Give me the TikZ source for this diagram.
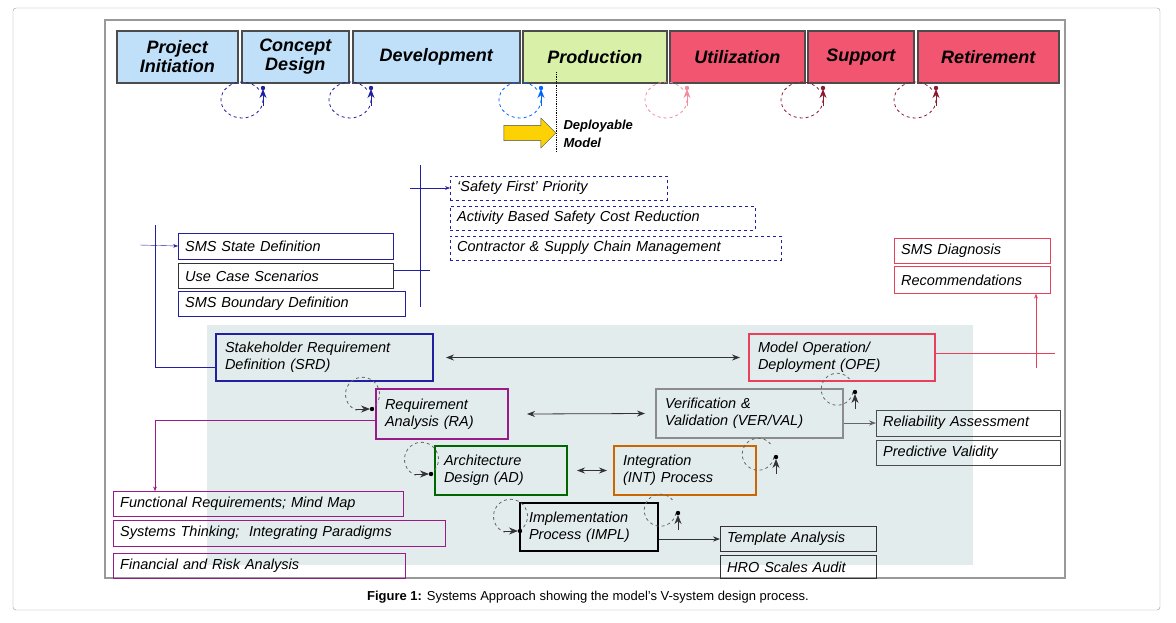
\documentclass[tikz,border=0pt]{standalone}
\usepackage{fontspec}
\setmainfont{Liberation Sans}
\usetikzlibrary{arrows.meta,shapes.arrows}
\definecolor{phblue}{HTML}{BFE0F8}
\definecolor{phgreen}{HTML}{D8F0A8}
\definecolor{phred}{HTML}{F25570}
\definecolor{dkblue}{HTML}{2020A0}
\definecolor{dkred}{HTML}{8A1A30}
\definecolor{pink}{HTML}{E8405A}
\definecolor{purp}{HTML}{9A1A8A}
\definecolor{vback}{HTML}{E3ECEC}
\begin{document}
\begin{tikzpicture}[x=1pt,y=-1pt,
  phase/.style={draw=black!70,line width=1.5pt,font=\fontsize{18}{19}\selectfont\bfseries\itshape,align=center,inner sep=0pt},
  task/.style={draw,font=\fontsize{14.5}{16}\selectfont\itshape,align=left,anchor=west,inner xsep=7pt,inner ysep=0pt},
  stage/.style={draw,line width=2pt,font=\fontsize{14.5}{17}\selectfont\itshape,align=left,inner xsep=9pt,inner ysep=0pt,anchor=north west},
  loop/.style={dashed,thick},
  arr/.style={-{Stealth[length=7pt]},thick,black!80}]
  \useasboundingbox (0,0) rectangle (1176,622);
  \draw[black!40,rounded corners=3pt] (13,8) rectangle (1160,610);
  \draw[black!40,line width=1.5pt] (105,20) rectangle (1065,578);
  % phases
  \foreach \a/\b/\c/\t/\n in {116/237/phblue/{Project\\Initiation}/p1,241/348/phblue/{Concept\\Design}/p2,352/519/phblue/Development/p3,522/666/phgreen/Production/p4,669/804/phred/Utilization/p5,807/913/phred/Support/p6,917/1058/phred/Retirement/p7}
    \node[phase,fill=\c,minimum width={\b-\a},minimum height=52pt,anchor=north west] (\n) at (\a,30) {\t};
  \foreach \n in {p3,p4,p5,p6,p7}
    \path (\n.center) ++(0,-9) coordinate (\n top);
  % phase loops
  \foreach \x/\c in {242/dkblue,350/dkblue,520/blue!60!cyan,666/pink!60,802/dkred,915/dkred}{
    \draw[loop,\c] (\x+21,100) arc (0:330:21 and 18);
    \fill[\c] (\x+21,88) circle (2.2pt);
    \draw[-{Stealth[length=9pt,width=7pt]},\c,thick] (\x+21,106) -- (\x+21,89);
  }
  \node[single arrow,draw=black!70,fill=yellow!70!orange,minimum height=52pt,minimum width=30pt,
    single arrow head extend=4pt,inner sep=4pt] (dep) at (526,133) {};
  \draw[densely dotted,thick] (556,72) -- (556,152);
  \node[font=\fontsize{13}{18}\selectfont\bfseries\itshape,align=left,anchor=west] (deplab) at (560,134) {Deployable\\Model};
  % shaded area
  \fill[vback] (207,325) rectangle (973,565);
  % upper tasks
  \node[task,dashed,draw=dkblue,text width=203pt,minimum height=24pt] (sf) at (450,188) {`Safety First' Priority};
  \node[task,dashed,draw=dkblue,text width=291pt,minimum height=24pt] (ab) at (450,218) {Activity Based Safety Cost Reduction};
  \node[task,dashed,draw=dkblue,text width=317pt,minimum height=24pt] (cs) at (450,248) {Contractor \& Supply Chain Management};
  \draw[dkblue] (420,165) -- (420,307);
  \coordinate (c1) at (410,188);
  \draw[-{Stealth},dkblue] (c1) -- (sf.west);
  \node[task,draw=dkblue,text width=201pt,minimum height=26pt] (ssd) at (178,246) {SMS State Definition};
  \node[task,draw=black!80,text width=201pt,minimum height=25pt] (ucs) at (178,276) {Use Case Scenarios};
  \node[task,draw=dkblue,text width=213pt,minimum height=25pt] (sbd) at (178,304) {SMS Boundary Definition};
  \coordinate (c2) at (430,270);
  \draw[dkblue] (ucs.east |- c2) -- (c2);
  \draw[dkblue] (155,225) -- (155,367) -- (215,367);
  \coordinate (c3) at (140,245);
  \draw[-{Stealth},dkblue] (c3) -- (ssd.west);
  \node[task,draw=pink,text width=142pt,minimum height=25pt] (diag) at (894,251) {SMS Diagnosis};
  \node[task,draw=pink,text width=142pt,minimum height=27pt] (rec) at (894,280) {Recommendations};
  % V stages
  \node[stage,draw=dkblue,text width=199pt,minimum height=47pt] (srd) at (215,333) {Stakeholder Requirement\\Definition (SRD)};
  \node[stage,draw=pink,text width=168pt,minimum height=47pt] (ope) at (748,333) {Model Operation/\\Deployment (OPE)};
  \node[stage,draw=purp,text width=114pt,minimum height=50pt] (ra) at (375,388) {Requirement\\Analysis (RA)};
  \node[stage,draw=black!45,text width=169pt,minimum height=49pt] (ver) at (655,388) {Verification \&\\Validation (VER/VAL)};
  \node[stage,draw=green!40!black,text width=114pt,minimum height=49pt] (ad) at (434,445) {Architecture\\Design (AD)};
  \node[stage,draw=orange!80!black,text width=124pt,minimum height=49pt] (int) at (613,445) {Integration\\(INT) Process};
  \node[stage,draw=black,text width=120pt,minimum height=48pt] (impl) at (519,502) {Implementation\\Process (IMPL)};
  \draw[{Stealth[length=8pt]}-{Stealth[length=8pt]},thick,black!80] ([xshift=12pt]srd.east) -- ([xshift=-8pt]ope.west);
  \draw[{Stealth[length=8pt]}-{Stealth[length=8pt]},thick,black!80] ([xshift=18pt]ra.east) -- ([xshift=-10pt]ver.west);
  \draw[{Stealth[length=8pt]}-{Stealth[length=8pt]},thick,black!80] ([xshift=9pt]ad.east) -- ([xshift=-6pt]int.west);
  % V loops
  \foreach \x/\y in {362/390,421/455,510/512}{
    \draw[loop,black!60] (\x+9,\y+19) arc (60:-250:17);
    \draw[-{Stealth[length=9pt,width=7pt]},thick,black!80] (\x-6,\y+19) -- (\x+8,\y+19);
    \fill (\x+10,\y+19) circle (2.2pt);
  }
  \foreach \x/\y in {661/511,759/455,838/390}{
    \draw[loop,black!60] (\x+15,\y+2) arc (10:320:16);
    \draw[-{Stealth[length=9pt,width=7pt]},thick,black!80] (\x+17,\y+19) -- (\x+17,\y+4);
    \fill (\x+17,\y+2) circle (2.2pt);
  }
  % right tasks
  \node[task,draw=black!70,text width=170pt,minimum height=26pt] (rel) at (876,423) {Reliability Assessment};
  \node[task,draw=black!70,text width=170pt,minimum height=25pt] (pv) at (876,453) {Predictive Validity};
  \draw[arr,black!60] (ver.east |- rel) -- (rel.west);
  \node[task,draw=black!80,text width=142pt,minimum height=25pt] (ta) at (720,539) {Template Analysis};
  \node[task,draw=black!80,text width=142pt,minimum height=23pt] (hro) at (720,567) {HRO Scales Audit};
  \draw[arr] (impl.east |- ta) -- (ta.west);
  \coordinate (c4) at (1055,353);
  \draw[pink] (ope.east |- c4) -- (c4);
  \coordinate (c5) at (1036,368);
  \draw[-{Stealth},pink] (c5) -- (rec.south -| c5);
  % left tasks
  \node[task,draw=purp,text width=276pt,minimum height=25pt] (fr) at (113,504) {Functional Requirements; Mind Map};
  \node[task,draw=purp,text width=318pt,minimum height=26pt] (st) at (113,533) {Systems Thinking;\ \ Integrating Paradigms};
  \node[task,draw=purp,text width=278pt,minimum height=25pt] (fi) at (113,566) {Financial and Risk Analysis};
  \draw[purp] (ra.west |- 0,420) -- (155,420);
  \draw[-{Stealth},purp] (155,420) -- (fr.north -| 155,0);
  \node[font=\fontsize{13}{15}\selectfont] (cap) at (588,597) {\textbf{Figure 1:} Systems Approach showing the model's V-system design process.};
\end{tikzpicture}
\end{document}
